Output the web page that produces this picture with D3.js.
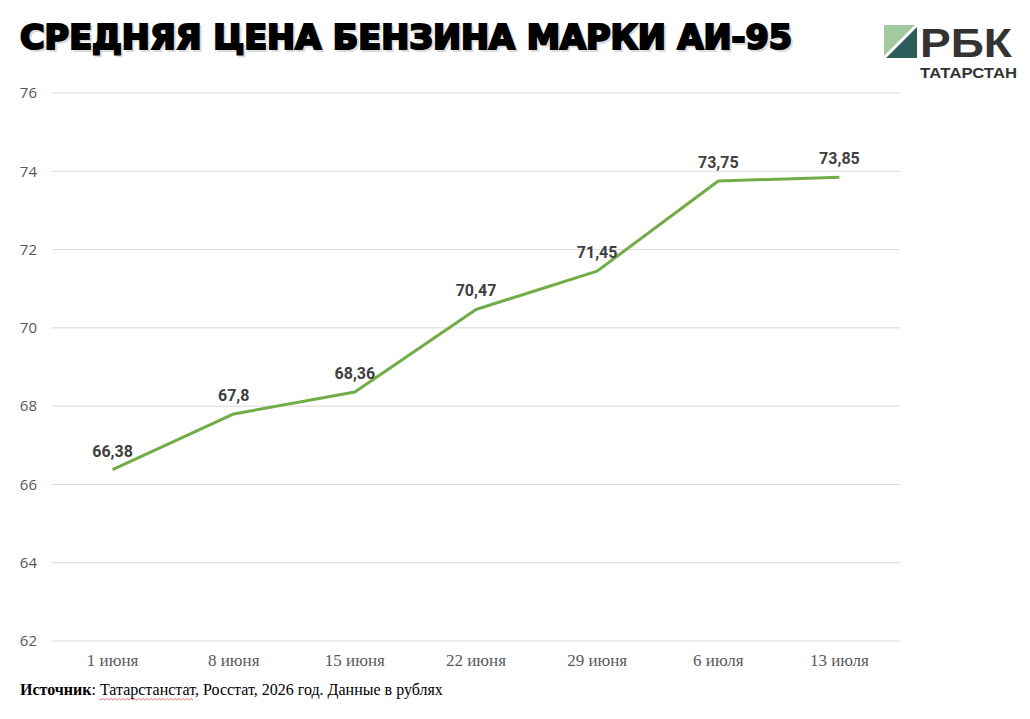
<!DOCTYPE html>
<html>
<head>
<meta charset="utf-8">
<script src="https://cdn.jsdelivr.net/npm/d3@7"></script>
<style>
  body { margin: 0; background: #fff; }
</style>
</head>
<body>
<script>
var width = 1030;
var height = 719;

var categories = ["1 июня", "8 июня", "15 июня", "22 июня", "29 июня", "6 июля", "13 июля"];
var prices = [66.38, 67.8, 68.36, 70.47, 71.45, 73.75, 73.85];
var priceLabels = ["66,38", "67,8", "68,36", "70,47", "71,45", "73,75", "73,85"];
var yTicks = [62, 64, 66, 68, 70, 72, 74, 76];

var svg = d3.select("body")
    .append("svg")
    .attr("width", width)
    .attr("height", height)
    .style("display", "block");

var x = d3.scaleBand()
    .domain(categories)
    .range([52, 900]);

var y = d3.scaleLinear()
    .domain([62, 76])
    .range([641, 93]);

// gridlines
svg.append("g")
    .selectAll("line")
    .data(yTicks)
    .join("line")
    .attr("x1", 52)
    .attr("x2", 900)
    .attr("y1", d => y(d))
    .attr("y2", d => y(d))
    .attr("stroke", "#d9d9d9")
    .attr("stroke-width", 1);

// y axis labels
var yAxis = svg.append("g")
    .attr("transform", "translate(37,0)")
    .call(d3.axisLeft(y).tickValues(yTicks).tickSize(0).tickPadding(0));
yAxis.select(".domain").remove();
yAxis.selectAll("text")
    .attr("fill", "#595959")
    .attr("font-size", "15px")
    .attr("font-family", "'Open Sans', sans-serif");

// x axis labels
var xAxis = svg.append("g")
    .attr("transform", "translate(0,654)")
    .call(d3.axisBottom(x).tickSize(0).tickPadding(0));
xAxis.select(".domain").remove();
xAxis.selectAll("text")
    .attr("fill", "#595959")
    .attr("font-size", "17px")
    .attr("font-family", "'Liberation Serif', serif");

// line
var line = d3.line()
    .x((d, i) => x(categories[i]) + x.bandwidth() / 2)
    .y(d => y(d));

svg.append("path")
    .datum(prices)
    .attr("d", line)
    .attr("fill", "none")
    .attr("stroke", "#70ad47")
    .attr("stroke-width", 3)
    .attr("stroke-linejoin", "round");

// data labels
svg.append("g")
    .selectAll("text")
    .data(prices)
    .join("text")
    .attr("x", (d, i) => x(categories[i]) + x.bandwidth() / 2)
    .attr("y", d => y(d) - 13)
    .attr("text-anchor", "middle")
    .attr("fill", "#404040")
    .attr("font-size", "16px")
    .attr("font-weight", "bold")
    .attr("font-family", "Roboto, sans-serif")
    .text((d, i) => priceLabels[i]);

// title
var titleText = "СРЕДНЯЯ ЦЕНА БЕНЗИНА МАРКИ АИ-95";
svg.append("text")
    .attr("x", 22)
    .attr("y", 51)
    .attr("fill", "#999")
    .attr("font-size", "33px")
    .attr("font-weight", "900")
    .attr("font-family", "'DejaVu Sans', sans-serif")
    .attr("stroke", "#999")
    .attr("stroke-width", 2)
    .attr("textLength", 772)
    .attr("lengthAdjust", "spacingAndGlyphs")
    .attr("opacity", 0.35)
    .text(titleText);

svg.append("text")
    .attr("x", 20)
    .attr("y", 49)
    .attr("fill", "#000")
    .attr("font-size", "33px")
    .attr("font-weight", "900")
    .attr("font-family", "'DejaVu Sans', sans-serif")
    .attr("stroke", "#000")
    .attr("stroke-width", 2.2)
    .attr("textLength", 772)
    .attr("lengthAdjust", "spacingAndGlyphs")
    .text(titleText);

// logo
var logo = svg.append("g").attr("transform", "translate(884,25)");
logo.append("path").attr("d", "M0,0 L31,0 L0,31 Z").attr("fill", "#a3c9a0");
logo.append("path").attr("d", "M33,2 L33,33 L2,33 Z").attr("fill", "#2d5d5b");
logo.append("text")
    .attr("x", 36)
    .attr("y", 32)
    .attr("fill", "#333")
    .attr("font-size", "40px")
    .attr("font-weight", "bold")
    .attr("font-family", "'Liberation Sans', Arial, sans-serif")
    .attr("textLength", 92)
    .attr("lengthAdjust", "spacingAndGlyphs")
    .text("РБК");
logo.append("text")
    .attr("x", 36)
    .attr("y", 53)
    .attr("fill", "#333")
    .attr("font-size", "14px")
    .attr("font-weight", "bold")
    .attr("font-family", "'Liberation Sans', Arial, sans-serif")
    .attr("textLength", 97)
    .attr("lengthAdjust", "spacingAndGlyphs")
    .text("ТАТАРСТАН");

// footer
var footer = svg.append("text")
    .attr("x", 20)
    .attr("y", 695)
    .attr("fill", "#000")
    .attr("font-size", "16px")
    .attr("font-family", "'Liberation Serif', serif");
footer.append("tspan").attr("font-weight", "bold").text("Источник");
footer.append("tspan").text(": Татарстанстат, Росстат, 2026 год. Данные в рублях");

// spell-check squiggle under "Татарстанстат"
var squig = d3.range(99, 195, 2).map((d, i) => [d, 699 + (i % 2 ? 1 : -0.5)]);
svg.append("path")
    .attr("d", d3.line()(squig))
    .attr("fill", "none")
    .attr("stroke", "#e06060")
    .attr("stroke-width", 0.8);
</script>
</body>
</html>
